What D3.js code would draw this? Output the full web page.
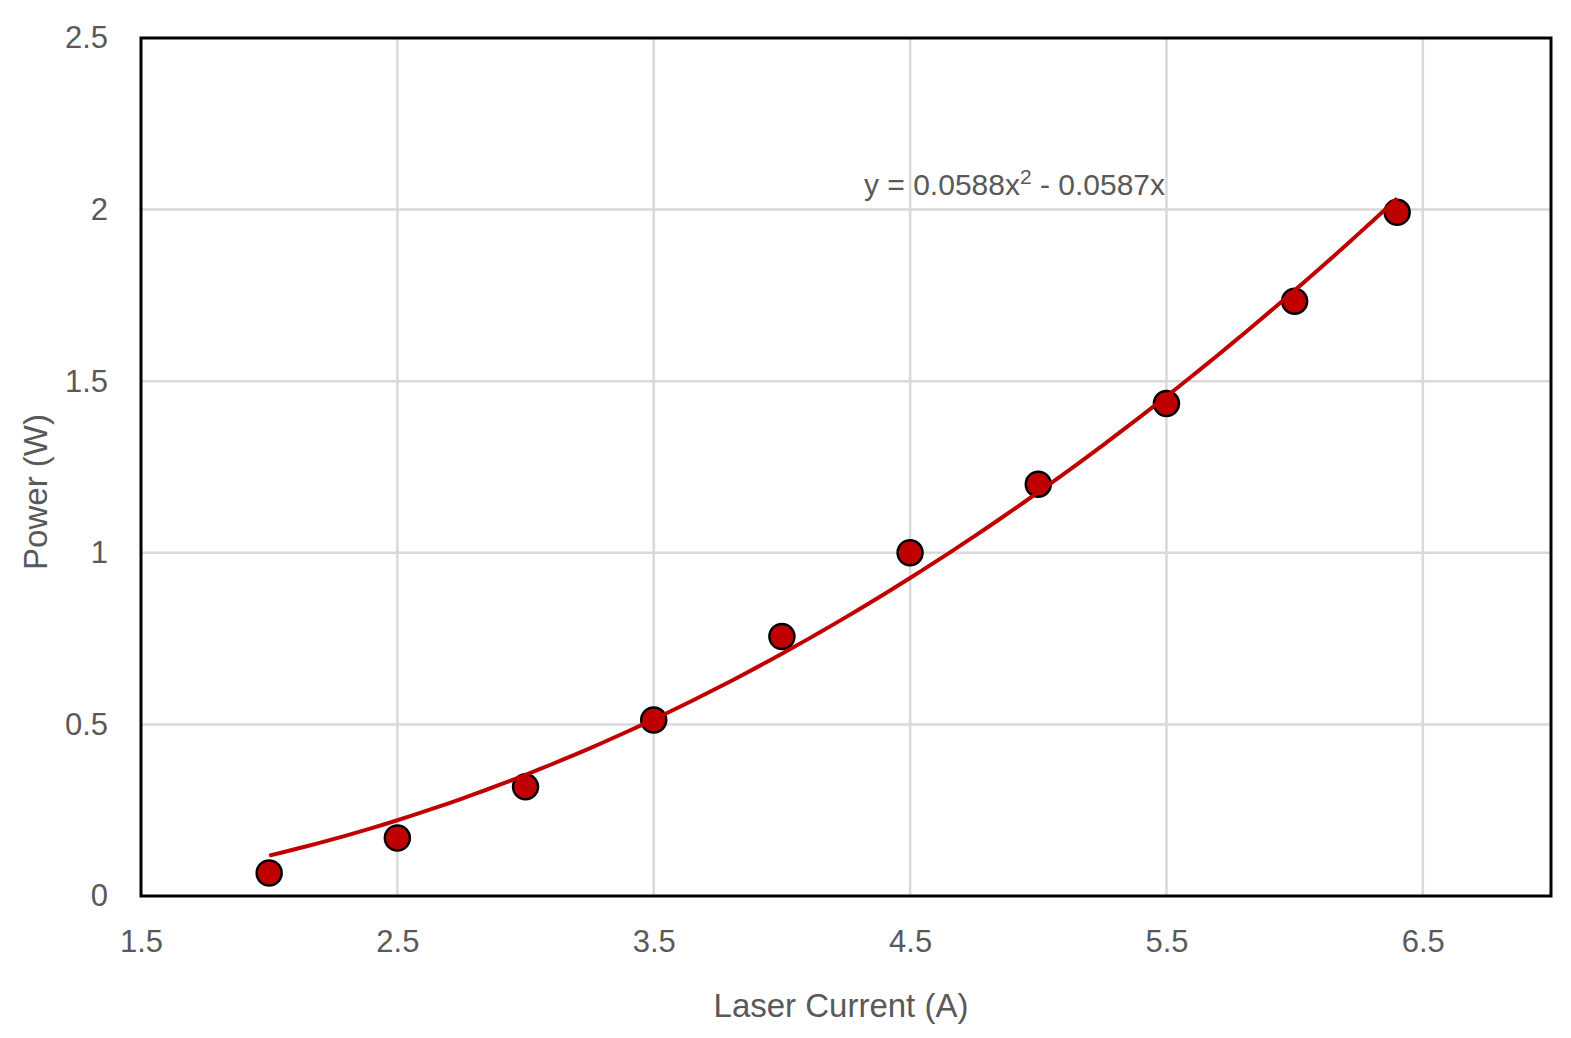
<!DOCTYPE html>
<html lang="en">
<head>
<meta charset="utf-8">
<title>Power vs Laser Current</title>
<script src="https://cdn.jsdelivr.net/npm/d3@7"></script>
<style>
  body { margin: 0; background: #fff; }
  text { font-family: "Liberation Sans", Arial, sans-serif; fill: #595959; }
</style>
</head>
<body>
<script>
// measured points
var current = [2, 2.5, 3, 3.5, 4, 4.5, 5, 5.5, 6, 6.4];
var power = [0.067, 0.169, 0.318, 0.513, 0.756, 1.0, 1.20, 1.435, 1.733, 1.992];

// tick labels
var xTicks = [1.5, 2.5, 3.5, 4.5, 5.5, 6.5];
var yTicks = [0, 0.5, 1, 1.5, 2, 2.5];

// polynomial trendline coefficients (a*x^2 + b*x), taken from the chart label
var trendCoef = [0.0588, -0.0587];
var trendLabel = "y = 0.0588x";
var trendLabel2 = " - 0.0587x";

var w = 1571, h = 1038;
var margin = {left: 141, right: 20, top: 38, bottom: 142};

var x = d3.scaleLinear().domain([1.5, 7]).range([margin.left, w - margin.right]);
var y = d3.scaleLinear().domain([0, 2.5]).range([h - margin.bottom, margin.top]);

var svg = d3.select("body").append("svg")
  .attr("width", w)
  .attr("height", h);

// gridlines
svg.append("g")
  .selectAll("line")
  .data(xTicks.slice(1))
  .enter()
  .append("line")
  .attr("x1", function(d) { return x(d); })
  .attr("x2", function(d) { return x(d); })
  .attr("y1", y(0))
  .attr("y2", y(2.5))
  .attr("stroke", "#d9d9d9")
  .attr("stroke-width", 2.5);

svg.append("g")
  .selectAll("line")
  .data(yTicks.slice(1, -1))
  .enter()
  .append("line")
  .attr("x1", x(1.5))
  .attr("x2", x(7))
  .attr("y1", function(d) { return y(d); })
  .attr("y2", function(d) { return y(d); })
  .attr("stroke", "#d9d9d9")
  .attr("stroke-width", 2.5);

// tick labels via axes (no lines)
var xAxis = svg.append("g")
  .attr("transform", "translate(0," + y(0) + ")")
  .call(d3.axisBottom(x).tickValues(xTicks).tickSize(0).tickPadding(34).tickFormat(d3.format("")));
var yAxis = svg.append("g")
  .attr("transform", "translate(" + x(1.5) + ",0)")
  .call(d3.axisLeft(y).tickValues(yTicks).tickSize(0).tickPadding(33).tickFormat(d3.format("")));
[xAxis, yAxis].forEach(function(a) {
  a.select(".domain").remove();
  a.selectAll("text")
    .attr("font-size", "31px")
    .attr("fill", "#595959")
    .style("font-family", "'Liberation Sans', Arial, sans-serif");
});

// plot border
svg.append("rect")
  .attr("x", x(1.5))
  .attr("y", y(2.5))
  .attr("width", x(7) - x(1.5))
  .attr("height", y(0) - y(2.5))
  .attr("fill", "none")
  .attr("stroke", "#000")
  .attr("stroke-width", 3);

// markers
svg.append("g")
  .selectAll("circle")
  .data(current)
  .enter()
  .append("circle")
  .attr("cx", function(d) { return x(d); })
  .attr("cy", function(d, i) { return y(power[i]); })
  .attr("r", 12.5)
  .attr("fill", "#c00000")
  .attr("stroke", "#000")
  .attr("stroke-width", 2.5);

// trendline over the fitted range
var xs = d3.range(d3.min(current), d3.max(current) + 0.001, 0.05);
var trend = d3.line()
  .x(function(d) { return x(d); })
  .y(function(d) { return y(trendCoef[0] * d * d + trendCoef[1] * d); });
svg.append("path")
  .datum(xs)
  .attr("d", trend)
  .attr("fill", "none")
  .attr("stroke", "#c00000")
  .attr("stroke-width", 4);

// equation label
var eq = svg.append("text")
  .attr("x", 864)
  .attr("y", 195)
  .attr("font-size", "30px");
eq.append("tspan").text(trendLabel);
eq.append("tspan").attr("font-size", "21px").attr("dy", -11).text("2");
eq.append("tspan").attr("dy", 11).text(trendLabel2);

// axis titles
svg.append("text")
  .attr("x", 841)
  .attr("y", 1017)
  .attr("text-anchor", "middle")
  .attr("font-size", "33px")
  .text("Laser Current (A)");

svg.append("text")
  .attr("transform", "translate(47,492) rotate(-90)")
  .attr("text-anchor", "middle")
  .attr("font-size", "33px")
  .text("Power (W)");
</script>
</body>
</html>
